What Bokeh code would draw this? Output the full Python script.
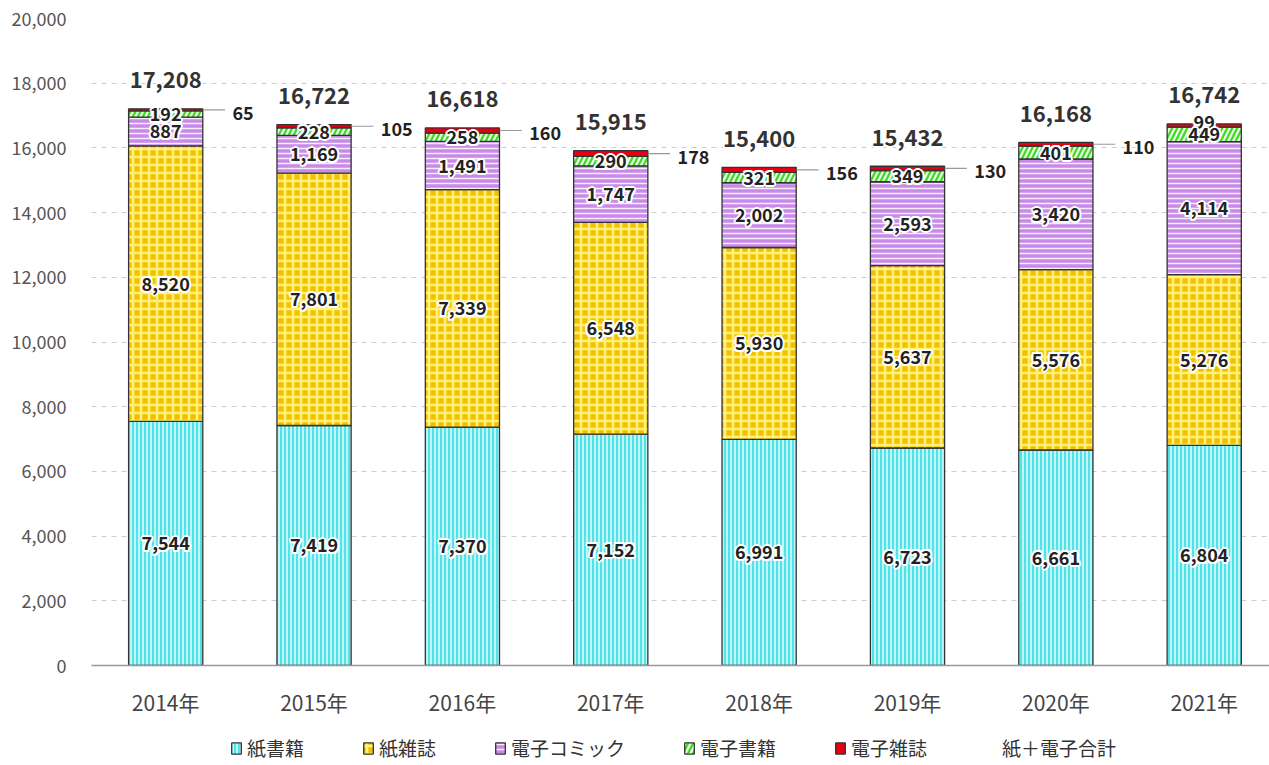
import numpy as np
from bokeh.plotting import figure
from bokeh.layouts import column
from bokeh.models import (Range1d, NumeralTickFormatter, FixedTicker, Legend, LegendItem,
                          ColumnDataSource)
from bokeh.core.properties import value
from bokeh.embed import file_html
from bokeh.resources import INLINE

years = ["2014年", "2015年", "2016年", "2017年", "2018年", "2019年", "2020年", "2021年"]
paper_books = [7544, 7419, 7370, 7152, 6991, 6723, 6661, 6804]
paper_mags = [8520, 7801, 7339, 6548, 5930, 5637, 5576, 5276]
e_comics = [887, 1169, 1491, 1747, 2002, 2593, 3420, 4114]
e_books = [192, 228, 258, 290, 321, 349, 401, 449]
e_mags = [65, 105, 160, 178, 156, 130, 110, 99]
totals = [17208, 16722, 16618, 15915, 15400, 15432, 16168, 16742]
series_names = ["紙書籍", "紙雑誌", "電子コミック", "電子書籍", "電子雑誌"]
total_name = "紙＋電子合計"
y_ticks = [0, 2000, 4000, 6000, 8000, 10000, 12000, 14000, 16000, 18000, 20000]

FONT = "Noto Sans CJK JP"

x = np.arange(len(years))
data = np.array([paper_books, paper_mags, e_comics, e_books, e_mags], dtype=float)
tops = np.cumsum(data, axis=0)
bottoms = tops - data
mids = (tops + bottoms) / 2

p = figure(width=1269, height=720, x_range=Range1d(-0.5, 7.44), y_range=Range1d(0, 20000),
           output_backend="svg", toolbar_location=None,
           min_border_left=91, min_border_right=0, min_border_top=18, min_border_bottom=55)
p.outline_line_color = None
p.background_fill_color = "white"

p.xgrid.grid_line_color = None
p.ygrid.grid_line_color = "#cccccc"
p.ygrid.grid_line_dash = "5 5"
p.ygrid.grid_line_width = 1

p.yaxis.ticker = FixedTicker(ticks=y_ticks)
p.yaxis.formatter = NumeralTickFormatter(format="0,0")
p.yaxis.axis_line_color = None
p.yaxis.major_tick_line_color = None
p.yaxis.minor_tick_line_color = None
p.yaxis.major_label_text_font = FONT
p.yaxis.major_label_text_font_size = "18px"
p.yaxis.major_label_text_color = "#555555"
p.yaxis.major_label_standoff = 19

p.xaxis.ticker = FixedTicker(ticks=list(x))
p.xaxis.major_label_overrides = {int(i): years[i] for i in range(len(years))}
p.xaxis.axis_line_color = "#999999"
p.xaxis.axis_line_width = 1.5
p.xaxis.major_tick_line_color = None
p.xaxis.minor_tick_line_color = None
p.xaxis.major_label_text_font = FONT
p.xaxis.major_label_text_font_size = "21px"
p.xaxis.major_label_text_color = "#444444"
p.xaxis.major_label_standoff = 15

styles = [
    dict(fill_color="#4fe3ea", hatch_pattern="vertical_line", hatch_color="white", hatch_scale=4, hatch_weight=1.5, hatch_alpha=0.85),
    dict(fill_color="#f5c000", hatch_pattern="cross", hatch_color="#fff27a", hatch_scale=8, hatch_weight=2.6),
    dict(fill_color="#c98ae8", hatch_pattern="horizontal_line", hatch_color="white", hatch_scale=5, hatch_weight=1.5, hatch_alpha=0.85),
    dict(fill_color="#3ddc22", hatch_pattern="right_diagonal_line", hatch_color="white", hatch_scale=10, hatch_weight=2.2, hatch_alpha=0.9),
    dict(fill_color="#e60012"),
]
BW = 0.5
for k in range(5):
    p.vbar(x=x, width=BW, bottom=bottoms[k], top=tops[k], line_color="#333333", line_width=1.3, **styles[k])


def halo_text(xs, ys, texts, size, color="#222222", align="center", baseline="middle", yoff=0, xoff=0, bold=True):
    src = ColumnDataSource(dict(x=list(xs), y=list(ys), t=list(texts)))
    common = dict(text_font=value(FONT), text_font_size=size, text_align=align, text_baseline=baseline,
                  text_font_style="bold" if bold else "normal")
    for dx, dy in [(-2, 0), (2, 0), (0, -2), (0, 2), (-1.5, -1.5), (1.5, -1.5), (-1.5, 1.5), (1.5, 1.5)]:
        p.text(x="x", y="y", text="t", source=src, text_color="white", x_offset=xoff + dx, y_offset=yoff + dy, **common)
    return p.text(x="x", y="y", text="t", source=src, text_color=color, x_offset=xoff, y_offset=yoff, **common)


fmt = lambda v: f"{int(v):,}"

# small e-magazine labels (drawn first so that inner labels sit on top)
out_idx = [i for i in range(len(years)) if i < len(years) - 1]
in_idx = [len(years) - 1]
right = x + BW / 2
p.segment(x0=[right[i] for i in out_idx], y0=[mids[4][i] for i in out_idx],
          x1=[right[i] + 0.15 for i in out_idx], y1=[mids[4][i] for i in out_idx],
          line_color="#999999", line_width=1.2)
halo_text([right[i] + 0.2 for i in out_idx], [mids[4][i] for i in out_idx],
          [fmt(e_mags[i]) for i in out_idx], "18px", align="left", yoff=3)
halo_text([x[i] for i in in_idx], [mids[4][i] for i in in_idx], [fmt(e_mags[i]) for i in in_idx], "18px", yoff=-3)

for k in range(4):
    halo_text(x, mids[k], [fmt(v) for v in data[k]], "18px")

# totals
halo_text(x, totals, [fmt(v) for v in totals], "22px", color="#333333", yoff=-29)

# legend strip
q = figure(width=1269, height=45, x_range=Range1d(0, 1), y_range=Range1d(0, 1),
           output_backend="svg", toolbar_location=None, x_axis_location=None, y_axis_location=None,
           min_border_left=0, min_border_right=0, min_border_top=0, min_border_bottom=0)
q.outline_line_color = None
q.xgrid.grid_line_color = None
q.ygrid.grid_line_color = None
legend_rs = [q.vbar(x=x, width=BW, bottom=bottoms[k], top=tops[k], line_color="#333333", line_width=1.3,
                    visible=False, **styles[k]) for k in range(5)]
dummy = q.scatter(x=x, y=totals, fill_alpha=0, line_alpha=0, visible=False)
items = [LegendItem(label=series_names[k], renderers=[legend_rs[k]]) for k in range(5)]
items.append(LegendItem(label=total_name, renderers=[dummy]))
legend = Legend(items=items, orientation="horizontal", location=(139, 4),
                label_text_font=FONT, label_text_font_size="19px", label_text_color="#333333",
                glyph_width=12, glyph_height=14, spacing=58, padding=2, margin=0,
                border_line_color=None, background_fill_alpha=0, label_standoff=5,
                inactive_fill_alpha=0)
q.add_layout(legend, "center")

open("out.html", "w").write(file_html(column(p, q, spacing=0), INLINE))
